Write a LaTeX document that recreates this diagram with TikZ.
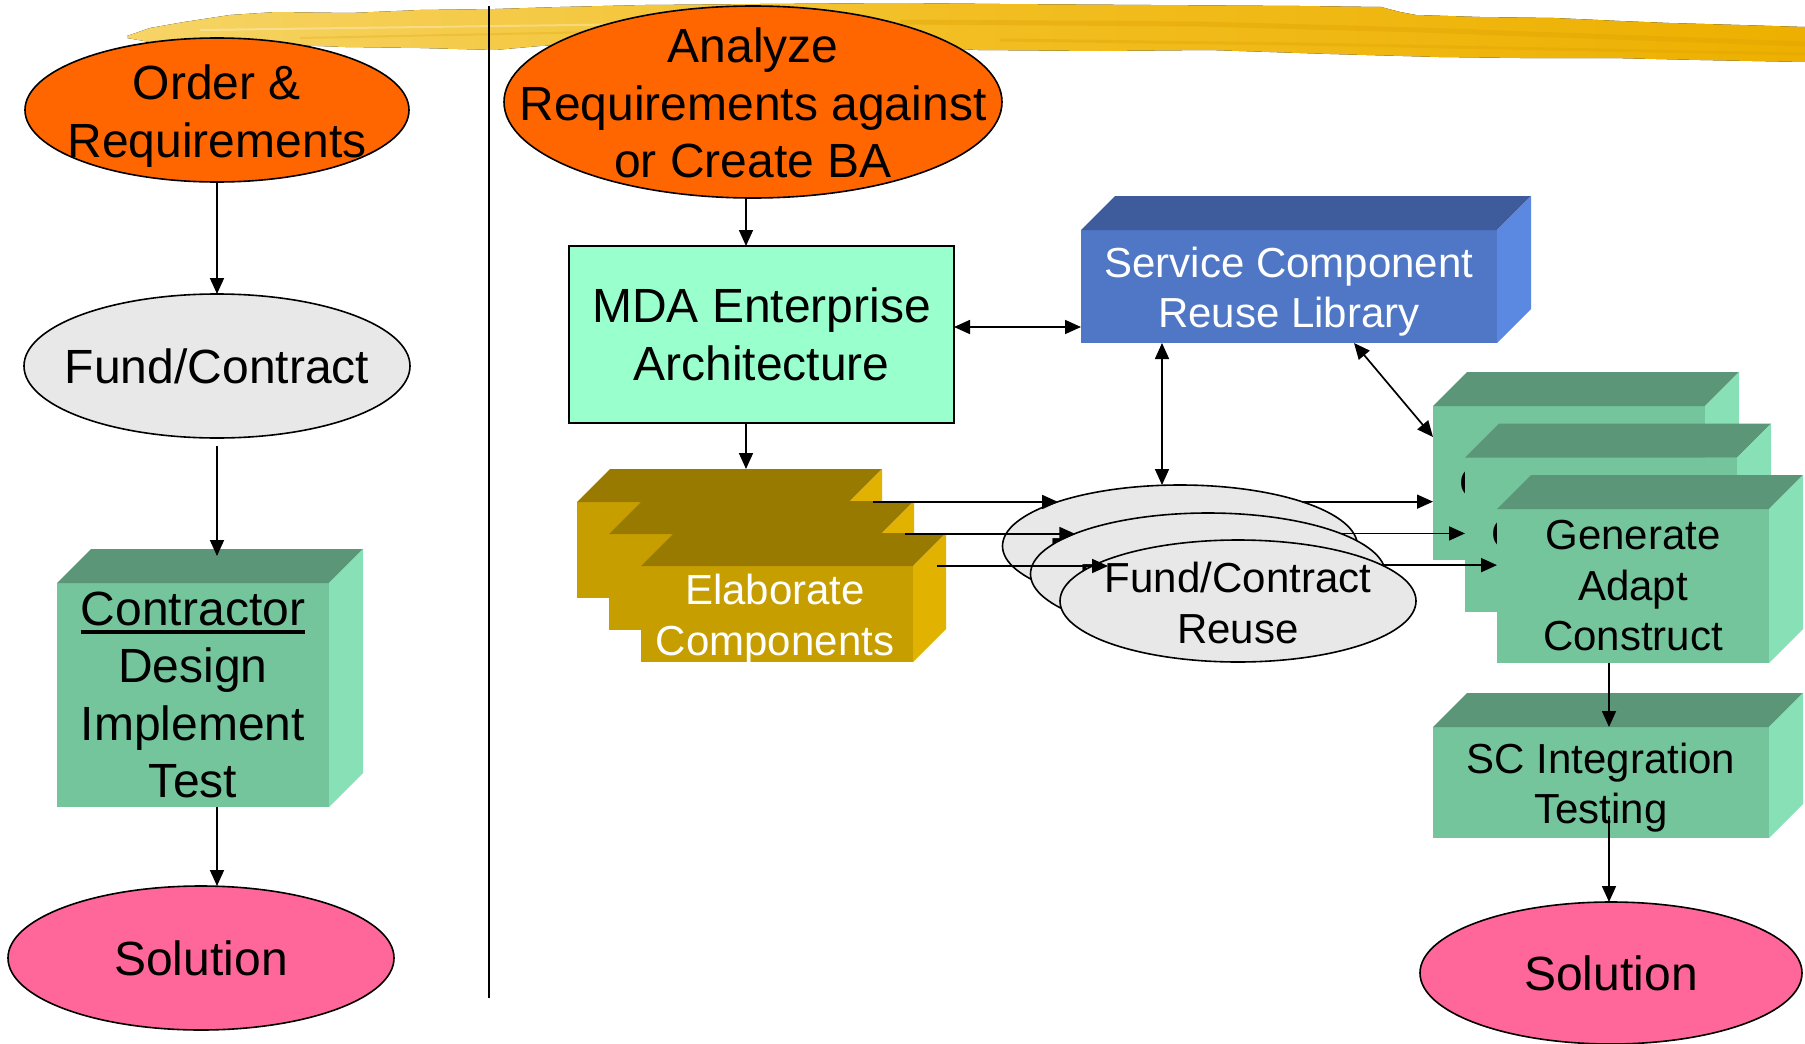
\documentclass[tikz,border=0pt]{standalone}
\usepackage{fontspec}
\setmainfont{Liberation Sans}
\usetikzlibrary{shapes.geometric,arrows.meta,calc}

\definecolor{orangeF}{HTML}{FF6600}
\definecolor{greyF}{HTML}{E8E8E8}
\definecolor{pinkF}{HTML}{FF6699}
\definecolor{mintF}{HTML}{99FFCC}
\definecolor{grFront}{HTML}{74C49C}
\definecolor{grTop}{HTML}{5B9679}
\definecolor{grSide}{HTML}{88E0B6}
\definecolor{blFront}{HTML}{4F77C5}
\definecolor{blTop}{HTML}{3E5C9B}
\definecolor{blSide}{HTML}{5B89E1}
\definecolor{auFront}{HTML}{C79E00}
\definecolor{auTop}{HTML}{997A00}
\definecolor{auSide}{HTML}{E1B300}
\definecolor{brushL}{HTML}{F6D466}
\definecolor{brushM}{HTML}{F2BE22}
\definecolor{brushR}{HTML}{EDB000}
\definecolor{brushD}{HTML}{DDA000}

\newcommand\bigfont{\fontsize{48}{57.5}\selectfont}
\newcommand\smallfont{\fontsize{42}{50.5}\selectfont}
% word with a heavy underline
\newcommand\ulword[1]{\setbox0\hbox{#1}\rlap{\rule[-9pt]{\wd0}{4pt}}\box0}
% top and side faces of a box whose front face is node #1
\newcommand\boxfaces[4]{%
  \fill[#3] (#1.north west) -- ($(#1.north west)+(#2,-#2)$) -- ($(#1.north east)+(#2,-#2)$) -- (#1.north east) -- cycle;
  \fill[#4] (#1.north east) -- ($(#1.north east)+(#2,-#2)$) -- ($(#1.south east)+(#2,-#2)$) -- (#1.south east) -- cycle;}

\tikzset{
  arr/.style={line width=1.7pt, -{Triangle[width=14pt,length=16pt]}},
  darr/.style={line width=1.7pt, {Triangle[width=14pt,length=16pt]}-{Triangle[width=14pt,length=16pt]}},
  oval/.style={ellipse, draw=black, line width=1.6pt, inner sep=0pt, outer sep=0pt},
  lbl/.style={align=center, inner sep=0pt},
  cube/.style={rectangle, inner sep=0pt, outer sep=0pt, align=center},
}

\begin{document}
\begin{tikzpicture}[x=1pt,y=-1pt]
\useasboundingbox[fill=white] (0,0) rectangle (1805,1044);

% brush stroke along the top
\fill[left color=brushL, right color=brushR, middle color=brushM]
  (127,36) -- (150,28) -- (184,22) -- (230,15) -- (276,12) -- (350,13) -- (420,10)
  -- (495,9) -- (560,7) -- (645,5) -- (760,4) -- (898,3) -- (1000,4) -- (1151,5)
  -- (1300,6) -- (1381,7) -- (1400,12) -- (1416,15) -- (1480,17) -- (1554,18)
  -- (1620,21) -- (1669,23) -- (1740,25) -- (1805,27)
  -- (1805,62) -- (1700,60) -- (1612,58) -- (1520,58) -- (1439,57) -- (1330,54)
  -- (1209,50) -- (1100,51) -- (978,50) -- (900,46) -- (806,43) -- (700,43)
  -- (599,43) -- (540,46) -- (495,50) -- (420,48) -- (345,47) -- (290,45)
  -- (230,43) -- (190,43) -- (150,42) -- (127,38) -- cycle;
\draw[brushD, line width=5pt, opacity=.35] (900,22) -- (1200,24) -- (1420,30) -- (1805,44);
\draw[brushD, line width=3pt, opacity=.3] (1000,40) -- (1300,44) -- (1600,50) -- (1805,54);
\draw[brushD, line width=2pt, opacity=.25] (300,38) -- (600,32) -- (900,34);
\draw[white, line width=2pt, opacity=.3] (200,30) -- (500,26) -- (800,22);

% separator
\coordinate (sepTop) at (489,6);
\coordinate (sepBot) at (489,998);
\draw[line width=1.6pt] (sepTop) -- (sepBot);

% ---------- left column ----------
\node[oval, fill=orangeF, minimum width=384pt, minimum height=144pt,
  label={[lbl,font=\bigfont,yshift=-6pt]center:Order \&\\Requirements}] (ord) at (217,110) {};
\node[oval, fill=greyF, minimum width=386pt, minimum height=144pt,
  label={[lbl,font=\bigfont]center:Fund/Contract}] (fc) at (217,366) {};
\node[cube, fill=grFront, minimum width=272pt, minimum height=224pt, font=\bigfont]
  (ctr) at (193,695) {\ulword{Contractor}\\Design\\Implement\\Test};
\boxfaces{ctr}{34}{grTop}{grSide}
\node[oval, fill=pinkF, minimum width=386pt, minimum height=144pt,
  label={[lbl,font=\bigfont]center:Solution}] (sol1) at (201,958) {};

\coordinate (lspine) at (217,0);
\draw[arr] (ord.south) -- (fc.north);
\draw[arr] ($(fc.south)+(0,8)$) -- ($(ctr.north -| lspine)+(0,-27)$);
\draw[arr] (ctr.south -| lspine) -- (sol1.north -| lspine);

% ---------- right part ----------
\node[oval, fill=orangeF, minimum width=498pt, minimum height=192pt,
  label={[lbl,font=\bigfont,yshift=-1pt]center:Analyze\\Requirements against\\or Create BA}] (ana) at (753,102) {};
\node[rectangle, draw=black, line width=1.6pt, fill=mintF, minimum width=385pt, minimum height=177pt,
  inner sep=0pt, outer sep=0pt, align=center, font=\bigfont] (mda) at (761.5,334.5) {MDA Enterprise\\Architecture};

\node[cube, fill=blFront, minimum width=416pt, minimum height=113pt,
  label={[lbl,font=\smallfont,text=white,yshift=-5pt]center:Service Component\\Reuse Library}]
  (lib) at (1289,286.5) {};
\boxfaces{lib}{34}{blTop}{blSide}

% stacked component boxes
\node[cube, fill=auFront, minimum width=272pt, minimum height=96pt] (e1) at (713,550) {};
\boxfaces{e1}{33}{auTop}{auSide}
\node[cube, fill=auFront, minimum width=272pt, minimum height=96pt] (e2) at (745,582) {};
\boxfaces{e2}{33}{auTop}{auSide}
\node[cube, fill=auFront, minimum width=272pt, minimum height=96pt,
  label={[lbl,font=\smallfont,text=white,yshift=-5pt,xshift=-2pt]center:Elaborate\\Components}]
  (e3) at (777,614) {};
\boxfaces{e3}{33}{auTop}{auSide}

% stacked reuse ellipses
\node[oval, fill=greyF, minimum width=355pt, minimum height=122pt,
  label={[lbl,font=\smallfont,xshift=3pt,yshift=-6pt]center:Fund/Contract}] (f1) at (1180,546) {};
\node[oval, fill=greyF, minimum width=355pt, minimum height=122pt,
  label={[lbl,font=\smallfont,xshift=5pt,yshift=-4pt]center:Fund/Contract}] (f2) at (1208,574) {};
\node[oval, fill=greyF, minimum width=356pt, minimum height=122pt,
  label={[lbl,font=\smallfont,yshift=-2pt]center:Fund/Contract\\Reuse}] (f3) at (1238,601) {};

% stacked build boxes
\node[cube, fill=grFront, minimum width=272pt, minimum height=154pt,
  label={[lbl,font=\smallfont,xshift=-22pt]center:Generate}] (g1) at (1569,483) {};
\boxfaces{g1}{34}{grTop}{grSide}
\node[cube, fill=grFront, minimum width=272pt, minimum height=154pt,
  label={[lbl,font=\smallfont,xshift=-22pt]center:Generate}] (g2) at (1601,534.5) {};
\boxfaces{g2}{34}{grTop}{grSide}
\node[cube, fill=grFront, minimum width=272pt, minimum height=154pt, font=\smallfont]
  (g3) at (1633,586) {Generate\\Adapt\\Construct};
\boxfaces{g3}{34}{grTop}{grSide}

\node[cube, fill=grFront, minimum width=336pt, minimum height=111pt,
  label={[lbl,font=\smallfont,yshift=-5pt]center:SC Integration\\Testing}]
  (sc) at (1601,782.5) {};
\boxfaces{sc}{34}{grTop}{grSide}
\node[oval, fill=pinkF, minimum width=382pt, minimum height=142pt,
  label={[lbl,font=\bigfont]center:Solution}] (sol2) at (1611,973) {};

% connectors
\coordinate (rspine) at (746,0);
\draw[arr] (ana.south -| rspine) -- (mda.north -| rspine);
\draw[arr] (mda.south -| rspine) -- ($(e1.north -| rspine)+(0,-33)$);
\coordinate (hy) at (0,327);
\draw[darr] (mda.east |- hy) -- (lib.west |- hy);
\coordinate (vx) at (1162,0);
\draw[darr] (lib.south -| vx) -- (f1.north -| vx);
\draw[darr] ($(lib.south west)+(273,0)$) -- ($(g1.north west)+(0,31)$);

\draw[arr] ($(e1.north east)+(24,0)$) -- (f1.160 |- e1.north east);
\draw[arr] ($(e2.north east)+(24,0)$) -- (f2.163 |- e2.north east);
\draw[arr] ($(e3.north east)+(24,0)$) -- ($(f3.166 |- e3.north east)+(14,0)$);

\draw[arr] (f1.20) -- (g1.west |- f1.20);
\draw[arr] (f2.17) -- (g2.west |- f2.17);
\draw[arr] (f3.14) -- (g3.west |- f3.14);

\coordinate (gx) at (1609,0);
\draw[arr] (g3.south -| gx) -- (sc.north -| gx);
\draw[arr] ($(sc.south -| gx)+(0,-22)$) -- (sol2.north -| gx);
\end{tikzpicture}
\end{document}
